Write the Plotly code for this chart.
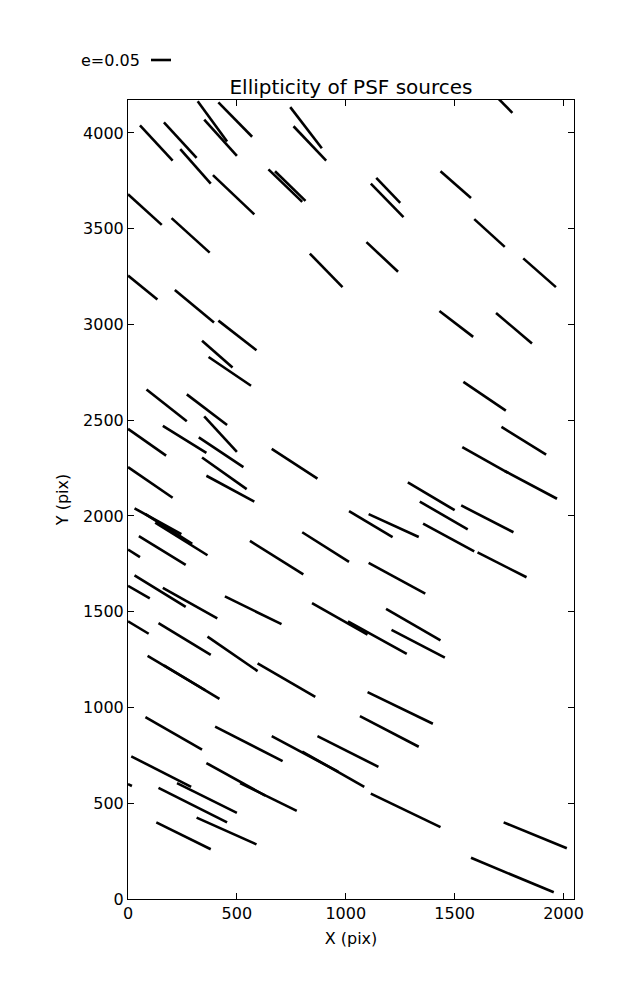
import plotly.graph_objects as go

# Whisker endpoints (data units, pixels on detector)
x_start = [55, 165, 240, 320, 415, 350, 390, 0, 200, 745, 760, 645, 675, 835, 0, 215,
           1700, 1140, 1115, 1435, 1590, 1095, 1815, 415, 340, 370, 85, 270, 350, 0, 160,
           325, 340, 360, 0, 660, 1430, 1690, 1540, 1715, 1535, 1730, 1285, 30, 80, 125,
           50, 0, 560, 800, 30, 0, 160, 445, 845, 1010, 0, 140, 365, 90, 165, 595, 1340,
           1530, 1015, 1105, 1355, 1605, 1105, 1185, 1210, 1100, 80, 400, 660, 870, 800,
           15, 225, 0, 360, 515, 140, 315, 130, 1065, 1115, 1725, 1575]
y_start = [4040, 4055, 3915, 4165, 4160, 4070, 3780, 3680, 3555, 4135, 4035, 3810, 3800,
           3370, 3255, 3180, 4180, 3765, 3735, 3800, 3550, 3430, 3345, 3020, 2915, 2830,
           2660, 2635, 2520, 2455, 2470, 2410, 2305, 2210, 2255, 2350, 3070, 3060, 2700,
           2465, 2360, 2235, 2175, 2040, 2010, 1965, 1895, 1825, 1870, 1915, 1690, 1635,
           1625, 1580, 1545, 1450, 1450, 1440, 1370, 1270, 1220, 1230, 2075, 2055, 2025,
           2010, 1960, 1810, 1755, 1515, 1405, 1080, 950, 900, 850, 850, 770, 745, 605,
           600, 710, 605, 580, 425, 400, 955, 550, 400, 215]
x_end = [205, 315, 380, 455, 570, 500, 580, 155, 375, 890, 910, 800, 815, 985, 135, 395,
         1765, 1250, 1265, 1575, 1730, 1240, 1965, 590, 480, 565, 270, 455, 500, 175, 360,
         530, 545, 580, 205, 870, 1585, 1855, 1735, 1920, 1745, 1970, 1500, 245, 295, 365,
         265, 55, 805, 1015, 265, 100, 410, 705, 1100, 1280, 95, 380, 595, 355, 420, 860,
         1560, 1770, 1215, 1335, 1590, 1830, 1365, 1435, 1455, 1400, 340, 710, 965, 1150,
         1085, 290, 500, 18, 630, 775, 455, 590, 380, 1335, 1435, 2015, 1955]
y_end = [3855, 3870, 3735, 3955, 3980, 3880, 3575, 3520, 3375, 3920, 3855, 3640, 3645,
         3195, 3130, 3010, 4105, 3635, 3560, 3660, 3405, 3275, 3195, 2865, 2775, 2680,
         2495, 2475, 2335, 2315, 2330, 2255, 2140, 2075, 2095, 2195, 2935, 2900, 2550,
         2320, 2225, 2090, 2030, 1905, 1855, 1795, 1745, 1785, 1695, 1760, 1525, 1570,
         1465, 1435, 1380, 1280, 1385, 1275, 1190, 1090, 1045, 1055, 1930, 1915, 1890,
         1890, 1815, 1680, 1595, 1350, 1260, 915, 780, 720, 665, 690, 585, 585, 450,
         590, 540, 460, 400, 285, 260, 795, 375, 265, 35]

x_ticks = [0, 500, 1000, 1500, 2000]
y_ticks = [0, 500, 1000, 1500, 2000, 2500, 3000, 3500, 4000]
x_range = [0, 2048]
y_range = [0, 4172]

xs, ys = [], []
for a, b, c, d in zip(x_start, y_start, x_end, y_end):
    xs += [a, c, None]
    ys += [b, d, None]

fig = go.Figure()
fig.add_trace(go.Scatter(x=xs, y=ys, mode="lines",
                         line=dict(color="black", width=2.6),
                         showlegend=False, hoverinfo="skip"))

font = "DejaVu Sans"
axis_common = dict(showgrid=False, zeroline=False, showline=True, linecolor="black",
                   linewidth=1, mirror="allticks", ticks="inside", ticklen=6,
                   tickcolor="black", tickwidth=1,
                   tickfont=dict(family=font, size=16, color="black"))

fig.update_xaxes(range=x_range, tickvals=x_ticks, **axis_common,
                 title=dict(text="X (pix)", font=dict(family=font, size=16, color="black"),
                            standoff=10))
fig.update_yaxes(range=y_range, tickvals=y_ticks, **axis_common,
                 title=dict(text="Y (pix)", font=dict(family=font, size=16, color="black"),
                            standoff=10))

# page body has an 8px margin: figure sits at (8, 8)
W, H = 629, 992
fig.update_layout(
    width=W, height=H,
    margin=dict(l=120, r=63, t=92, b=101),
    paper_bgcolor="white", plot_bgcolor="white",
    title=dict(text="Ellipticity of PSF sources", x=343 / W, xanchor="center",
               y=1 - 79 / H, yanchor="middle",
               font=dict(family=font, size=20, color="black")),
)

# legend key for whisker scale
fig.add_shape(type="line", xref="paper", yref="paper",
              x0=(151 - 128) / 446, x1=(171 - 128) / 446,
              y0=(899 - 60) / 799, y1=(899 - 60) / 799,
              line=dict(color="black", width=2.6))
fig.add_annotation(text="e=0.05", xref="paper", yref="paper",
                   x=(142 - 128) / 446, y=(899 - 60) / 799, xanchor="right",
                   yanchor="middle", showarrow=False,
                   font=dict(family=font, size=16, color="black"))

fig.write_html("out.html")
